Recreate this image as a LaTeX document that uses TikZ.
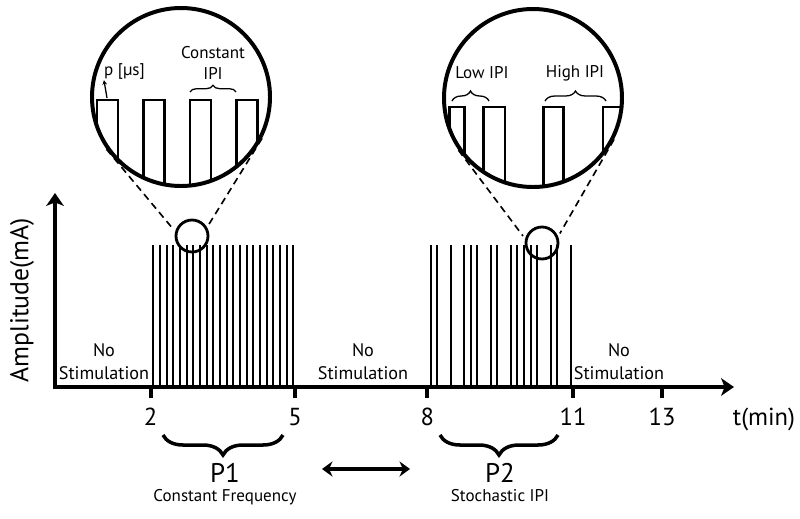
\documentclass[tikz,border=0pt]{standalone}
\usepackage{fontspec}
\setmainfont{PT Sans}
\usetikzlibrary{arrows.meta,decorations.pathreplacing}
\tikzset{axis/.style = {line width=3.4pt, arrows={Stealth[length=11pt,width=15pt,inset=3pt]-Stealth[length=11pt,width=15pt,inset=3pt]}}}
\tikzset{tickmark/.style = {line width=3.4pt}}
\tikzset{pulse/.style = {line width=1.9pt}}
\tikzset{zoomc/.style = {circle, draw, line width=3.4pt, minimum size=5.34cm, inner sep=0}}
\tikzset{spot/.style = {circle, draw, line width=2.4pt, minimum size=0.96cm, inner sep=0}}
\tikzset{zoomline/.style = {line width=1.4pt, dash pattern=on 6pt off 4pt, shorten >=3pt}}
\tikzset{bigbrace/.style = {decorate, line width=3pt, decoration={brace, mirror, amplitude=0.6cm}}}
\tikzset{smallbrace/.style = {decorate, line width=1.1pt, decoration={brace, amplitude=#1}}}
\tikzset{lbl/.style = {font=\fontsize{15.5}{19.5}\selectfont, align=center, inner sep=0}}
\tikzset{ticklbl/.style = {font=\fontsize{21}{25}\selectfont, anchor=base, inner sep=0}}
\tikzset{inlbl/.style = {font=\fontsize{14.5}{18}\selectfont, align=center, inner sep=0}}

\begin{document}
\begin{tikzpicture}[x=0.03cm, y=-0.03cm]
    \useasboundingbox (0,0) rectangle (800,518);
    % axes
    \coordinate (origin) at (55,387);
    \coordinate (yend) at (55,193);
    \coordinate (xend) at (734,387);
    \draw[axis] (yend) -- (origin) -- (xend);
    \node[rotate=90, font=\fontsize{22}{26}\selectfont] (ylab) at (22,300) {Amplitude(mA)};
    \foreach \x/\t in {150.7/2, 295/5, 427.3/8, 573/11, 662/13}
        \draw[tickmark] (\x,387) -- (\x,398) node[ticklbl] (tick\t) at (\x,425) {\t};
    \node[ticklbl] (tmin) at (764,425) {t(min)};

    % P1 : constant frequency
    \foreach \k in {0,...,21}
        \draw[pulse] ({153.3+6.667*\k},387) -- ++(0,-142);
    % P2 : stochastic IPI
    \foreach \k in {0,1,3,5,6,7,9,10,12,13,14,15,16,18,19,21}
        \draw[pulse] ({430.7+6.667*\k},387) -- ++(0,-142);

    \node[lbl] (ns1) at (104,362) {No\\Stimulation};
    \node[lbl] (ns2) at (363,362) {No\\Stimulation};
    \node[lbl] (ns3) at (619,362) {No\\Stimulation};

    % zoomed views
    \node[spot] (spotA) at (192,236) {};
    \node[spot] (spotB) at (542,243) {};
    \node[zoomc] (zoomA) at (181,97) {};
    \node[zoomc] (zoomB) at (533,98) {};
    \draw[zoomline] (zoomA.215) -- (spotA.165);
    \draw[zoomline] (zoomA.333) -- (spotA.30);
    \draw[zoomline] (zoomB.215) -- (spotB.166);
    \draw[zoomline] (zoomB.333) -- (spotB.22);
    \begin{scope}
        \clip (181,97) circle [radius=88];
        \foreach \x in {97,143.5,190,236.5}
            \draw[line width=2.4pt] (\x,200) -- (\x,100) -- ({\x+21},100) -- ({\x+21},200);
    \end{scope}
    \begin{scope}
        \clip (533,98) circle [radius=88];
        \foreach \x/\w in {449.3/15, 483.5/21.5, 543.3/20, 603/21}
            \draw[line width=2.4pt] (\x,200) -- (\x,107) -- ({\x+\w},107) -- ({\x+\w},200);
    \end{scope}

    % labels inside the zoomed views
    \node[inlbl] (plab) at (124.5,72) {p [µs]};
    \coordinate (pfoot) at (107,98);
    \draw[line width=1.1pt, -{Stealth[length=4pt,width=4pt]}] (pfoot) -- (plab.south west);
    \node[inlbl] (cipi) at (213,63) {Constant\\IPI};
    \draw[smallbrace=0.2cm] (190,92) -- (236,92);
    \node[inlbl] (lipi) at (482,73) {Low IPI};
    \draw[smallbrace=0.3cm] (452,101) -- (489,101);
    \node[inlbl] (hipi) at (575,73) {High IPI};
    \draw[smallbrace=0.3cm] (545,101) -- (606,101);

    % protocol braces
    \draw[bigbrace] (163,435) -- (283,435);
    \draw[bigbrace] (440,435) -- (558,435);
    \node[ticklbl, font=\fontsize{23}{27}\selectfont] (pA) at (225,482) {P1};
    \node[ticklbl, font=\fontsize{23}{27}\selectfont] (pB) at (500,482) {P2};
    \node[ticklbl, font=\fontsize{14.5}{18}\selectfont] (pAtxt) at (225,501) {Constant Frequency};
    \node[ticklbl, font=\fontsize{14.5}{18}\selectfont] (pBtxt) at (500,501) {Stochastic IPI};
    \coordinate (swapL) at (322,469);
    \coordinate (swapR) at (410,469);
    \draw[line width=3.4pt, arrows={Stealth[length=9pt,width=13pt,inset=3pt]-Stealth[length=9pt,width=13pt,inset=3pt]}] (swapL) -- (swapR);
\end{tikzpicture}
\end{document}
